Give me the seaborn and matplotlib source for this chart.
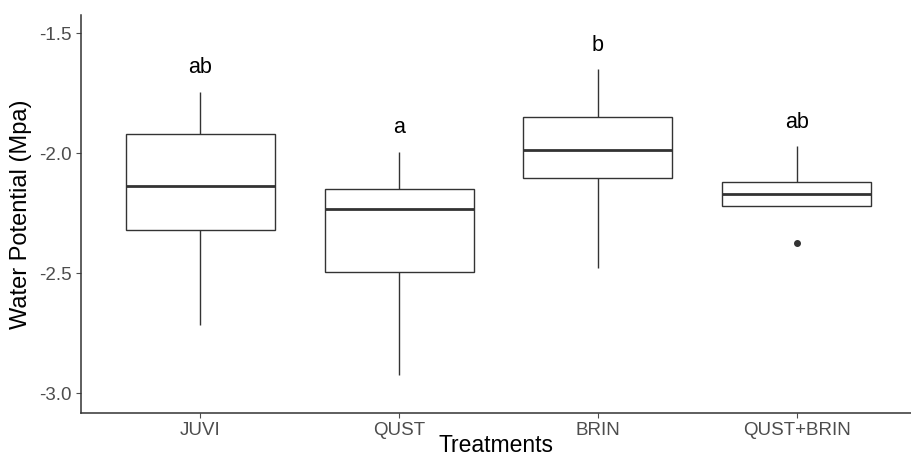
import numpy as np
import pandas as pd
import matplotlib
matplotlib.use("Agg")
import matplotlib.pyplot as plt
import seaborn as sns

categories = ["JUVI", "QUST", "BRIN", "QUST+BRIN"]
juvi = [-2.717, -2.322, -2.1375, -1.922, -1.745]
qust = [-2.925, -2.497, -2.232, -2.150, -1.995]
brin = [-2.479, -2.104, -1.989, -1.851, -1.650]
qust_brin = [-2.374, -2.219, -2.219, -2.169, -2.119, -2.119, -1.971]
letters = ["ab", "a", "b", "ab"]
yticks = [-3.0, -2.5, -2.0, -1.5]

groups = [juvi, qust, brin, qust_brin]
df = pd.DataFrame({
    "Treatments": [c for c, g in zip(categories, groups) for _ in g],
    "WP": [v for g in groups for v in g],
})

sns.set_style("white")
plt.rcParams["font.family"] = ["Liberation Sans", "DejaVu Sans"]

fig = plt.figure(figsize=(9.12, 4.58), dpi=100)
ax = fig.add_axes([81/912, 1-413/458, 1-81/912, (413-15)/458])

line_c = "#333333"
sns.boxplot(data=df, x="Treatments", y="WP", order=categories, ax=ax,
            color="white", linecolor=line_c, linewidth=1.0, width=0.75,
            showcaps=False, whis=1.5,
            medianprops={"linewidth": 2.0, "color": line_c},
            flierprops={"marker": "o", "markerfacecolor": line_c,
                        "markeredgecolor": line_c, "markersize": 4})

for i, g in enumerate(groups):
    q1, q3 = np.percentile(g, [25, 75])
    iqr = q3 - q1
    top = max(v for v in g if v <= q3 + 1.5 * iqr)
    ax.text(i, top + 0.1, letters[i], ha="center", va="center",
            fontsize=15.5, color="black")

ax.set_xlim(-0.6, 3.58)
ax.set_ylim(-3.083, -1.425)
ax.set_yticks(yticks)
ax.set_yticklabels([f"{t:.1f}" for t in yticks])
ax.set_xlabel("Treatments", fontsize=16.5, color="black")
ax.xaxis.label.set_va("bottom")
ax.xaxis.set_label_coords(0.5, (1.5 - 45) / 398)
ax.set_ylabel("Water Potential (Mpa)", fontsize=17, color="black", labelpad=5)
ax.tick_params(axis="both", colors="#4D4D4D", labelsize=13.5, length=3.5,
               width=0.8, direction="out", pad=3, left=True, bottom=True)
for s in ["top", "right"]:
    ax.spines[s].set_visible(False)
for s in ["left", "bottom"]:
    ax.spines[s].set_color(line_c)
    ax.spines[s].set_linewidth(1.1)

fig.savefig("out.png", dpi=100)
